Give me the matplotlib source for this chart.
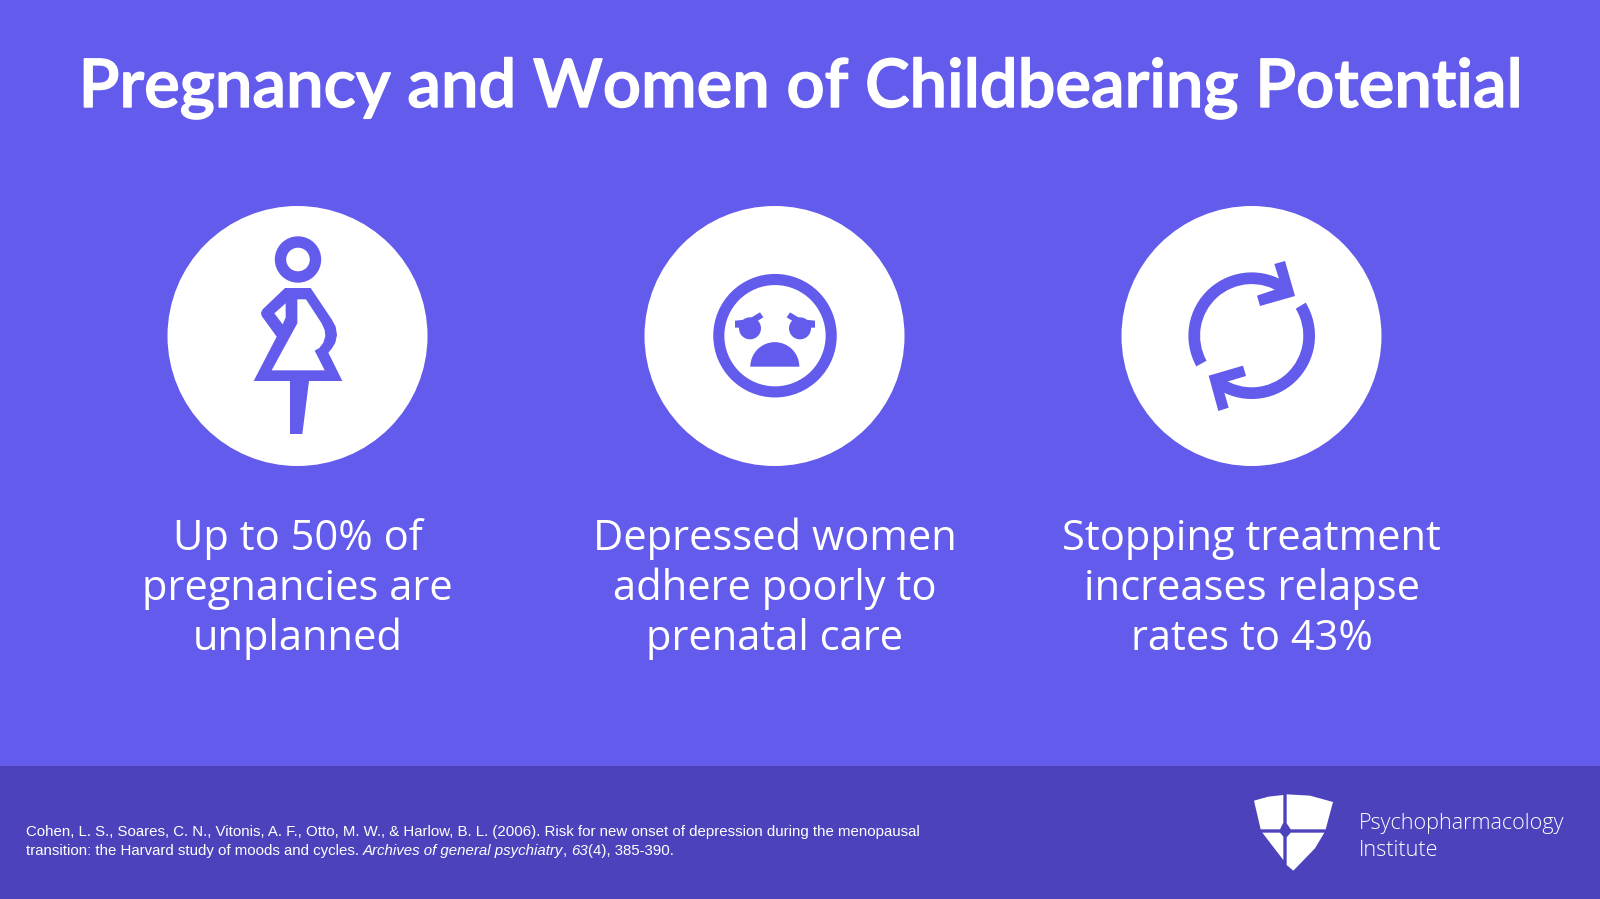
import matplotlib
matplotlib.use('Agg')
import matplotlib.pyplot as plt
import matplotlib.patheffects as pe
from matplotlib.patches import Circle, Polygon, Rectangle, Wedge

BG = '#635BEB'
FOOT = '#4C43BC'

title = 'Pregnancy and Women of Childbearing Potential'
captions = [
    'Up to 50% of\npregnancies are\nunplanned',
    'Depressed women\nadhere poorly to\nprenatal care',
    'Stopping treatment\nincreases relapse\nrates to 43%',
]
circle_x = [297.5, 774.5, 1251.5]
ref_line1 = 'Cohen, L. S., Soares, C. N., Vitonis, A. F., Otto, M. W., & Harlow, B. L. (2006). Risk for new onset of depression during the menopausal'
ref_line2 = [
    ('transition: the Harvard study of moods and cycles. ', 'normal'),
    ('Archives of general psychiatry', 'italic'),
    (', ', 'normal'),
    ('63', 'italic'),
    ('(4), 385-390.', 'normal'),
]
brand = ['Psychopharmacology', 'Institute']

fig = plt.figure(figsize=(16, 8.99), dpi=100, facecolor=BG)
ax = fig.add_axes([0, 0, 1, 1])
ax.set_xlim(0, 1600)
ax.set_ylim(899, 0)
ax.axis('off')


# icon outlines are traced in zoomed crop coordinates (3x), so convert them back
def crop(points, x0, y0):
    return [(x0 + px / 3, y0 + py / 3) for px, py in points]


def add_poly(points, color=BG):
    ax.add_patch(Polygon(points, closed=True, facecolor=color, edgecolor='none', zorder=3))


ax.add_patch(Rectangle((0, 766), 1600, 133, facecolor=FOOT, edgecolor='none'))

for cx in circle_x:
    ax.add_patch(Circle((cx, 336), 130, facecolor='white', edgecolor='none', zorder=2))

# woman
ax.add_patch(Circle((298, 259.5), 17.5, facecolor='none', edgecolor=BG, linewidth=8.2, zorder=3))
body = crop([(195, 204), (272, 204), (335, 298), (347, 320), (351, 345), (346, 368), (336, 385), (325, 398),
             (367, 483), (267, 483), (247, 642), (210, 642), (210, 483), (101, 483), (170, 350),
             (125, 288), (123, 278), (128, 268)], 220, 220)
add_poly(body)
dress = crop([(232, 238), (258, 238), (305, 310), (314, 330), (316, 348), (310, 368), (298, 384), (284, 392),
              (314, 451), (155, 451), (232, 310)], 220, 220)
add_poly(dress, 'white')
arm_hole = crop([(197, 250), (197, 292), (188, 313), (163, 280)], 220, 220)
add_poly(arm_hole, 'white')

# sad face
ax.add_patch(Circle((775, 335.7), 56.2, facecolor='none', edgecolor=BG, linewidth=8, zorder=3))
for sign in [1, -1]:
    mx = lambda p: [(255 + sign * (x - 255), y) for x, y in p]
    eye_x = 255 + sign * (180 - 255)
    eye = Circle((690 + eye_x / 3, 260 + 205 / 3), 11, facecolor=BG, edgecolor='none', zorder=3)
    ax.add_patch(eye)
    add_poly(crop(mx([(135, 182), (175, 178), (210, 157), (220, 172), (180, 197), (150, 203), (135, 203)]), 690, 260))
ax.add_patch(Wedge((690 + 254.5 / 3, 260 + 320 / 3), 24.5, 180, 360, facecolor=BG, edgecolor='none', zorder=3))

# refresh arrows
ax.add_patch(Wedge((1251.7, 335.7), 63.3, 151, 305, width=11.7, facecolor=BG, edgecolor='none', zorder=3))
ax.add_patch(Wedge((1251.7, 335.7), 63.3, -31.5, 125, width=11.7, facecolor=BG, edgecolor='none', zorder=3))
add_poly(crop([(313, 42), (345, 33), (375, 138), (270, 168), (261, 137), (335, 112)], 1170, 250))
add_poly(crop([(116, 377), (219, 347), (228, 378), (155, 400), (176, 473), (145, 483)], 1170, 250))

# shield logo
shield = [
    [(72, 62), (115, 50), (160, 45), (160, 128), (150, 148), (92, 148)],
    [(170, 43), (240, 47), (309, 66), (287, 148), (182, 148), (170, 130)],
    [(97, 158), (150, 158), (160, 170), (160, 240)],
    [(170, 172), (182, 158), (283, 158), (255, 205), (190, 272), (170, 255)],
]
for part in shield:
    add_poly(crop(part, 1230, 780), 'white')

# reference title is a bit heavier than the installed Lato weight, thicken with a thin stroke
title_text = ax.text(800, 107, title, color='white', ha='center', va='baseline', fontsize=48.2,
                     family='Lato', weight='semibold')
title_text.set_path_effects([pe.withStroke(linewidth=1.0, foreground='white')])

for cx, cap in zip(circle_x, captions):
    for i, line in enumerate(cap.split('\n')):
        ax.text(cx, 550.5 + i * 50, line, color='white', ha='center', va='baseline', fontsize=30, family='Open Sans')

ax.text(25.5, 836, ref_line1, color='white', va='baseline', fontsize=10.8, family='Liberation Sans')

# second reference line mixes italic and roman, place the pieces one after another
renderer = fig.canvas.get_renderer()
x = 25.5
for piece, style in ref_line2:
    t = ax.text(x, 855, piece.replace(' ', '\u00a0'), color='white', va='baseline', fontsize=10.8,
                family='Liberation Sans', style=style)
    x += t.get_window_extent(renderer).width

ax.text(1359, 829, brand[0], color='white', va='baseline', fontsize=15.6, family='Open Sans', weight='light')
ax.text(1359, 856, brand[1], color='white', va='baseline', fontsize=15.6, family='Open Sans', weight='light')

fig.savefig('out.png', dpi=100, facecolor=BG)
